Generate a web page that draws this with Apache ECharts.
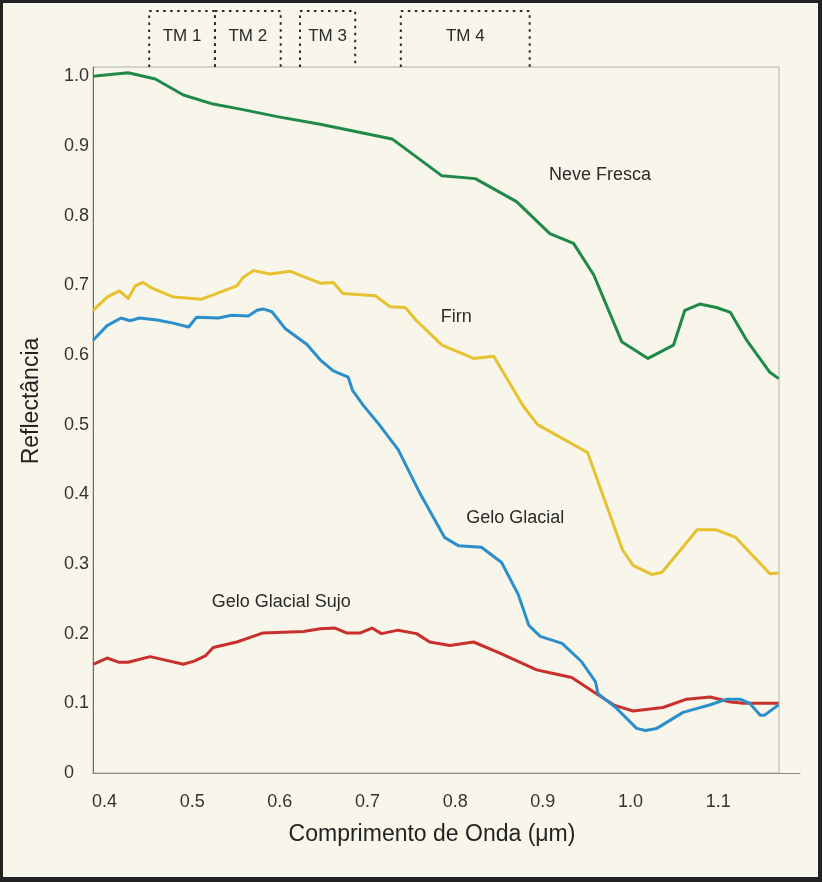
<!DOCTYPE html>
<html>
<head>
<meta charset="utf-8">
<script src="https://cdn.jsdelivr.net/npm/echarts@6/dist/echarts.min.js"></script>
<style>
  html, body { margin: 0; padding: 0; background: #f8f5eb; }
  #wrap { position: relative; width: 822px; height: 882px; }
  #chart { position: absolute; left: 0; top: 0; width: 822px; height: 882px; }
  #frame { position: absolute; left: 0; top: 0; width: 822px; height: 882px; box-sizing: border-box;
           border-style: solid; border-color: #222; border-width: 3px 4px 5px 3px; pointer-events: none; }
</style>
</head>
<body>
<div id="wrap"><div id="chart"></div><div id="frame"></div></div>
<script>
// ---- Data (wavelength in µm, reflectance) ----
const neveWl  = [0.387,0.427,0.458,0.490,0.524,0.558,0.597,0.646,0.728,0.785,0.823,0.870,0.908,0.935,0.958,0.990,1.020,1.049,1.062,1.079,1.098,1.114,1.133,1.159,1.169];
const neveRef = [1.000,1.005,0.996,0.973,0.960,0.952,0.942,0.931,0.910,0.857,0.853,0.820,0.774,0.760,0.715,0.619,0.595,0.614,0.664,0.673,0.668,0.661,0.620,0.575,0.566];

const firnWl  = [0.387,0.403,0.417,0.427,0.435,0.444,0.454,0.479,0.511,0.551,0.558,0.570,0.589,0.612,0.646,0.661,0.672,0.709,0.726,0.743,0.756,0.785,0.821,0.844,0.878,0.894,0.951,0.991,1.003,1.024,1.036,1.076,1.098,1.120,1.159,1.169];
const firnRef = [0.664,0.683,0.692,0.681,0.699,0.704,0.696,0.683,0.680,0.699,0.711,0.721,0.716,0.720,0.703,0.704,0.688,0.685,0.669,0.668,0.649,0.614,0.595,0.598,0.526,0.500,0.460,0.320,0.298,0.285,0.288,0.349,0.349,0.338,0.286,0.287];

const geloWl  = [0.387,0.403,0.419,0.429,0.440,0.460,0.477,0.496,0.505,0.530,0.545,0.564,0.574,0.581,0.591,0.606,0.631,0.646,0.661,0.678,0.683,0.695,0.714,0.735,0.760,0.788,0.804,0.830,0.853,0.872,0.884,0.897,0.922,0.944,0.960,0.963,0.984,1.007,1.017,1.030,1.060,1.091,1.110,1.125,1.136,1.148,1.153,1.169];
const geloRef = [0.621,0.642,0.653,0.649,0.653,0.650,0.646,0.640,0.654,0.653,0.657,0.656,0.664,0.666,0.662,0.638,0.615,0.593,0.577,0.568,0.549,0.528,0.499,0.464,0.401,0.338,0.326,0.324,0.302,0.256,0.212,0.196,0.186,0.160,0.131,0.114,0.093,0.064,0.061,0.064,0.087,0.098,0.106,0.106,0.100,0.083,0.083,0.098];

const sujoWl  = [0.387,0.403,0.416,0.427,0.452,0.490,0.503,0.515,0.524,0.551,0.581,0.627,0.646,0.663,0.676,0.692,0.705,0.716,0.735,0.756,0.771,0.794,0.821,0.851,0.893,0.908,0.933,0.962,0.982,1.003,1.037,1.064,1.091,1.114,1.129,1.169];
const sujoRef = [0.156,0.165,0.159,0.159,0.167,0.156,0.161,0.168,0.180,0.188,0.201,0.203,0.207,0.208,0.201,0.201,0.208,0.200,0.205,0.200,0.188,0.183,0.188,0.172,0.148,0.144,0.137,0.113,0.097,0.089,0.094,0.106,0.109,0.102,0.100,0.100];

// Landsat TM bands as drawn above the plot
const tmLabels = ['TM 1','TM 2','TM 3','TM 4'];
const tmStart  = [0.451,0.526,0.623,0.738];
const tmEnd    = [0.526,0.601,0.686,0.885];

// Tick labels
const xTicks = [0.4,0.5,0.6,0.7,0.8,0.9,1.0,1.1];
const yTicks = [0,0.1,0.2,0.3,0.4,0.5,0.6,0.7,0.8,0.9,1.0];

// ---- Chart ----
const FONT = "'Liberation Sans', Arial, sans-serif";
const X_MIN = 0.3869, X_MAX = 1.1694, Y_MAX = 1.0132;
const zip = (a, b) => a.map((v, i) => [v, b[i]]);

const chart = echarts.init(document.getElementById('chart'), null, { renderer: 'canvas' });

function lineSeries(name, wl, ref, color, labelText, lx, ly) {
  return {
    name, type: 'line', xAxisIndex: 0, yAxisIndex: 0,
    data: zip(wl, ref), showSymbol: false, symbol: 'none', smooth: false,
    lineStyle: { color, width: 3, join: 'round' }, itemStyle: { color },
    emphasis: { disabled: true }, silent: true, animation: false,
    markPoint: {
      silent: true, symbol: 'circle', symbolSize: 0, animation: false,
      label: { show: true, position: 'inside', formatter: '{b}', color: '#2a2a2a', fontSize: 18, fontFamily: FONT },
      data: [{ name: labelText, coord: [lx, ly] }]
    }
  };
}

const option = {
  backgroundColor: '#f8f5eb',
  animation: false,
  textStyle: { fontFamily: FONT },
  grid: [
    { left: 93, right: 43, top: 67, bottom: 109, show: true, borderColor: '#b3b0a8', borderWidth: 1, backgroundColor: 'transparent', containLabel: false, outerBoundsMode: 'none' },
    { left: 93, right: 43, top: 11, height: 56, containLabel: false, outerBoundsMode: 'none' },
    { left: 779, right: 22, top: 772, height: 1, containLabel: false, outerBoundsMode: 'none' }
  ],
  xAxis: [
    {
      gridIndex: 0, type: 'value', min: X_MIN, max: X_MAX,
      name: 'Comprimento de Onda (μm)', nameLocation: 'middle', nameGap: 50,
      nameTextStyle: { fontSize: 23, color: '#222', fontFamily: FONT, padding: [0, 8, 0, 0] },
      axisLine: { show: true, lineStyle: { color: '#8a8882', width: 1 } },
      axisTick: { show: false },
      splitLine: { show: false },
      axisLabel: {
        show: true, customValues: xTicks, margin: 20, fontSize: 18, color: '#333', fontFamily: FONT,
        formatter: v => v.toFixed(1)
      }
    },
    { gridIndex: 1, type: 'value', min: X_MIN, max: X_MAX, show: false },
    {
      gridIndex: 2, type: 'value', min: 0, max: 1, position: 'bottom',
      axisLine: { show: true, lineStyle: { color: '#8a8882', width: 1 } },
      axisTick: { show: false }, axisLabel: { show: false }, splitLine: { show: false }
    }
  ],
  yAxis: [
    {
      gridIndex: 0, type: 'value', min: 0, max: Y_MAX,
      name: 'Reflectância', nameLocation: 'middle', nameGap: 50,
      nameTextStyle: { fontSize: 23, color: '#222', fontFamily: FONT, padding: [0, 0, 0, 38] },
      axisLine: { show: true, lineStyle: { color: '#6f6d68', width: 1 } },
      axisTick: { show: false },
      splitLine: { show: false },
      axisLabel: {
        show: true, customValues: yTicks, margin: 29, align: 'left', fontSize: 18, color: '#333', fontFamily: FONT,
        formatter: v => (v === 0 ? '0' : v.toFixed(1))
      }
    },
    { gridIndex: 1, type: 'value', min: 0, max: 1, show: false },
    { gridIndex: 2, type: 'value', min: 0, max: 1, show: false }
  ],
  series: [
    lineSeries('Neve Fresca', neveWl, neveRef, '#1f8a48', 'Neve Fresca', 0.9652, 0.8586),
    lineSeries('Firn', firnWl, firnRef, '#e8c12f', 'Firn', 0.8012, 0.6549),
    lineSeries('Gelo Glacial Sujo', sujoWl, sujoRef, '#c8302c', 'Gelo Glacial Sujo', 0.6017, 0.2458),
    lineSeries('Gelo Glacial', geloWl, geloRef, '#2b8fcb', 'Gelo Glacial', 0.8685, 0.3655),
    {
      type: 'custom', xAxisIndex: 1, yAxisIndex: 1, silent: true, clip: false, animation: false,
      data: tmStart.map((s, i) => [s, tmEnd[i]]),
      renderItem: function (params, api) {
        const s = api.value(0), e = api.value(1);
        const b0 = api.coord([s, 0]), t0 = api.coord([s, 1]);
        const t1 = api.coord([e, 1]), b1 = api.coord([e, 0]);
        const ty = api.coord([s, 0.553])[1];
        return {
          type: 'group',
          children: [
            { type: 'polyline', shape: { points: [b0, t0, t1, b1] },
              style: { stroke: '#2a2a2a', lineWidth: 2, lineDash: [2.5, 4.5], fill: 'none' } },
            { type: 'text',
              style: { text: tmLabels[params.dataIndex], x: (t0[0] + t1[0]) / 2, y: ty,
                       align: 'center', verticalAlign: 'middle', fontSize: 17, fontFamily: FONT, fill: '#2a2a2a' } }
          ]
        };
      }
    }
  ]
};

chart.setOption(option);
</script>
</body>
</html>
